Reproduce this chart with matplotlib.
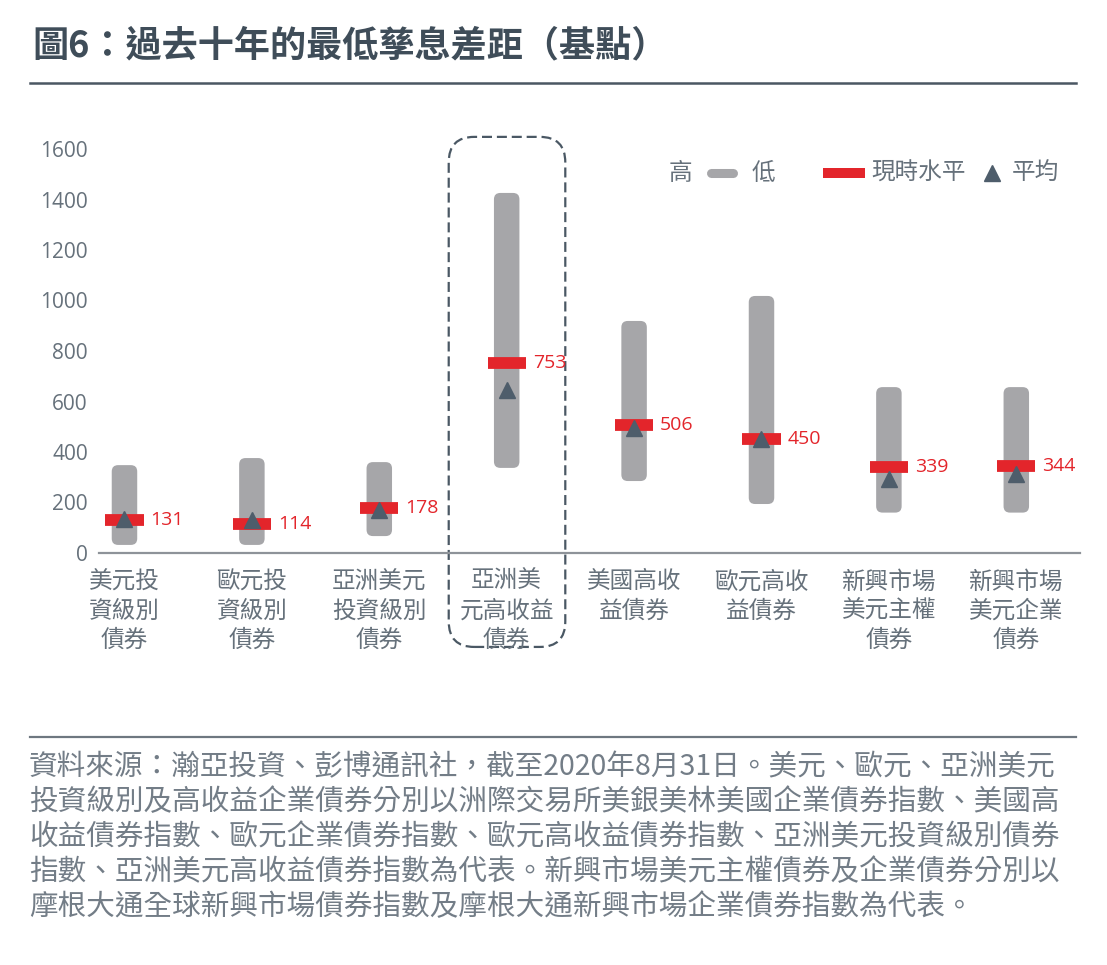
"""
圖6：過去十年的最低孳息差距（基點）
高低區間 + 現時水平 + 平均
"""

import matplotlib
matplotlib.use("Agg")
import matplotlib.pyplot as plt
import matplotlib.patches as mpatches
from matplotlib.lines import Line2D

plt.rcParams['font.family'] = ['Noto Sans CJK TC', 'DejaVu Sans']

# Dữ liệu
categories = ['美元投\n資級別\n債券', '歐元投\n資級別\n債券', '亞洲美元\n投資級別\n債券',
              '亞洲美\n元高收益\n債券', '美國高收\n益債券', '歐元高收\n益債券',
              '新興市場\n美元主權\n債券', '新興市場\n美元企業\n債券']
high = [348, 376, 360, 1426, 919, 1018, 657, 657]
low = [32, 32, 67, 337, 285, 194, 160, 160]
current = [131, 114, 178, 753, 506, 450, 339, 344]
average = [136, 130, 170, 645, 497, 452, 294, 312]
y_ticks = [0, 200, 400, 600, 800, 1000, 1200, 1400, 1600]
highlight = 3

title = '圖6：過去十年的最低孳息差距（基點）'
footnote = [
    '資料來源：瀚亞投資、彭博通訊社，截至2020年8月31日。美元、歐元、亞洲美元',
    '投資級別及高收益企業債券分別以洲際交易所美銀美林美國企業債券指數、美國高',
    '收益債券指數、歐元企業債券指數、歐元高收益債券指數、亞洲美元投資級別債券',
    '指數、亞洲美元高收益債券指數為代表。新興市場美元主權債券及企業債券分別以',
    '摩根大通全球新興市場債券指數及摩根大通新興市場企業債券指數為代表。',
]

GRAY = '#a6a6a9'
RED = '#e3252b'
TRI = '#4e5d6b'
TXT = '#66717b'
DARK = '#3f4d59'

W, H = 1107, 965
fig = plt.figure(figsize=(W / 100, H / 100), dpi=100)
ax = fig.add_axes([99 / W, 1 - 553 / H, 981 / W, 404 / H])
ax.set_xlim(-0.2, 7.5)
ax.set_ylim(0, 1600)

# tỉ lệ pixel / đơn vị để bo góc đều
px_x = 981 / 7.7
px_y = 404 / 1600
aspect = px_x / px_y

# Cột xám cao-thấp
for i, (lo, hi) in enumerate(zip(low, high)):
    ax.add_patch(mpatches.FancyBboxPatch(
        (i - 0.1, lo), 0.2, hi - lo,
        boxstyle='round,pad=0,rounding_size=0.05', mutation_aspect=aspect,
        facecolor=GRAY, edgecolor='none', zorder=2))

xs = list(range(len(categories)))
ax.hlines(current, [x - 0.15 for x in xs], [x + 0.15 for x in xs],
          colors=RED, linewidth=8.5, zorder=3)
ax.plot(xs, average, linestyle='none', marker='^', markersize=12,
        color=TRI, zorder=4)

for x, v in zip(xs, current):
    ax.annotate(str(v), (x + 0.15, v), xytext=(5, 0), textcoords='offset points',
                ha='left', va='center', color=RED, fontsize=14,
                family=['Open Sans', 'DejaVu Sans'])

# Khung nét đứt
ax.add_patch(mpatches.FancyBboxPatch(
    (highlight - 0.455, -372), 0.915, 2020,
    boxstyle='round,pad=0,rounding_size=0.2', mutation_aspect=aspect,
    fill=False, edgecolor='#4a5864', linewidth=1.6, linestyle=(0, (4.5, 2.2)),
    clip_on=False, zorder=1))

# Trục
for s in ['top', 'right', 'left']:
    ax.spines[s].set_visible(False)
ax.spines['bottom'].set_color('#8e9399')
ax.spines['bottom'].set_linewidth(1.6)

ax.set_yticks(y_ticks)
ax.set_yticklabels([str(t) for t in y_ticks], family=['Open Sans', 'DejaVu Sans'],
                   fontsize=15, color=TXT)
ax.set_xticks(xs)
ax.set_xticklabels(categories, fontsize=17, color=TXT, linespacing=1.34,
                   multialignment='center')
ax.tick_params(axis='y', length=0, pad=8)
ax.tick_params(axis='x', length=0, pad=12.5)

# Chú giải (vẽ tay)
ly = 1 - 173 / H
fig.text(669 / W, ly, '高', fontsize=17, color=TXT, va='center', ha='left')
fig.add_artist(Line2D([711 / W, 733 / W], [ly, ly], color=GRAY, linewidth=6.5,
                      solid_capstyle='round'))
fig.text(752 / W, ly, '低', fontsize=17, color=TXT, va='center', ha='left')
fig.add_artist(Line2D([828 / W, 860 / W], [ly, ly], color=RED, linewidth=7.2))
fig.text(871 / W, ly, '現時水平', fontsize=17, color=TXT, va='center', ha='left')
fig.add_artist(Line2D([992 / W], [ly], marker='^', markersize=11, color=TRI,
                      linestyle='none'))
fig.text(1012 / W, ly, '平均', fontsize=17, color=TXT, va='center', ha='left')

# Tiêu đề
fig.text(32 / W, 1 - 46 / H, title, fontsize=26, fontweight='bold', color=DARK,
         va='center', ha='left')
fig.add_artist(Line2D([30 / W, 1076 / W], [1 - 83 / H] * 2, color='#4a5763',
                      linewidth=1.8))

# Ghi chú nguồn
fig.add_artist(Line2D([30 / W, 1076 / W], [1 - 737 / H] * 2, color='#6e7780',
                      linewidth=1.6))
for k, line in enumerate(footnote):
    fig.text(29 / W, 1 - (767 + 35 * k) / H, line, fontsize=20.6, color='#737d87',
             va='center', ha='left')

fig.savefig('out.png', dpi=100, facecolor='white')
